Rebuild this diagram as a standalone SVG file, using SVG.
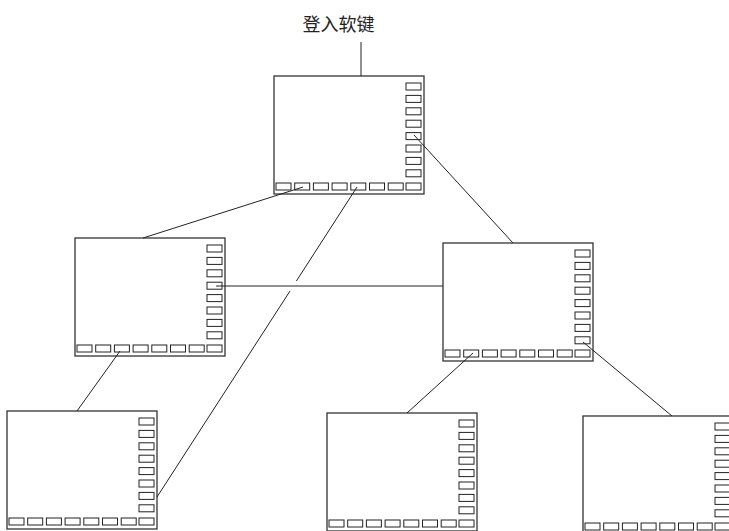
<svg xmlns="http://www.w3.org/2000/svg" xmlns:xlink="http://www.w3.org/1999/xlink" width="729" height="531" viewBox="0 0 729 531">
<style>
.frame{fill:#fff;stroke:#333;stroke-width:1.3}
.key{fill:#fff;stroke:#222;stroke-width:1}
.conn{fill:none;stroke:#222;stroke-width:1}
.label{font-family:"Noto Sans CJK SC","Liberation Sans",sans-serif;font-size:18px;fill:#222}
</style>
<defs>
<g id="panel">
<rect class="frame" x="0" y="0" width="150" height="118"/>
<rect class="key" x="132" y="7" width="15" height="7"/>
<rect class="key" x="132" y="19.4" width="15" height="7"/>
<rect class="key" x="132" y="31.8" width="15" height="7"/>
<rect class="key" x="132" y="44.2" width="15" height="7"/>
<rect class="key" x="132" y="56.6" width="15" height="7"/>
<rect class="key" x="132" y="69" width="15" height="7"/>
<rect class="key" x="132" y="81.4" width="15" height="7"/>
<rect class="key" x="132" y="93.8" width="15" height="7"/>
<rect class="key" x="2" y="107" width="15" height="7"/>
<rect class="key" x="20.7" y="107" width="15" height="7"/>
<rect class="key" x="39.4" y="107" width="15" height="7"/>
<rect class="key" x="58.1" y="107" width="15" height="7"/>
<rect class="key" x="76.8" y="107" width="15" height="7"/>
<rect class="key" x="95.5" y="107" width="15" height="7"/>
<rect class="key" x="114.2" y="107" width="15" height="7"/>
<rect class="key" x="132" y="107" width="15" height="7"/>
</g>
</defs>
<rect width="729" height="531" fill="#fff"/>
<g id="label-node">
<text class="label" x="338.5" y="31" text-anchor="middle">登入软键</text>
</g>
<g id="node-top"><use xlink:href="#panel" x="274" y="76"/></g>
<g id="node-mid-left"><use xlink:href="#panel" x="75" y="238"/></g>
<g id="node-mid-right"><use xlink:href="#panel" x="443" y="243"/></g>
<g id="node-bottom-left"><use xlink:href="#panel" x="7" y="411"/></g>
<g id="node-bottom-mid"><use xlink:href="#panel" x="327" y="413"/></g>
<g id="node-bottom-right"><use xlink:href="#panel" x="583" y="416"/></g>
<g id="connectors">
<line class="conn" x1="361" y1="42" x2="361" y2="76"/>
<line class="conn" x1="303" y1="187" x2="143" y2="238"/>
<line class="conn" x1="357" y1="187" x2="296.4" y2="281"/>
<line class="conn" x1="290" y1="291" x2="157" y2="497"/>
<line class="conn" x1="414" y1="135" x2="513" y2="243"/>
<line class="conn" x1="216" y1="286" x2="443" y2="286"/>
<line class="conn" x1="120" y1="351" x2="77" y2="411"/>
<line class="conn" x1="473" y1="353" x2="407" y2="413"/>
<line class="conn" x1="583" y1="342" x2="672" y2="416"/>
</g>
</svg>
